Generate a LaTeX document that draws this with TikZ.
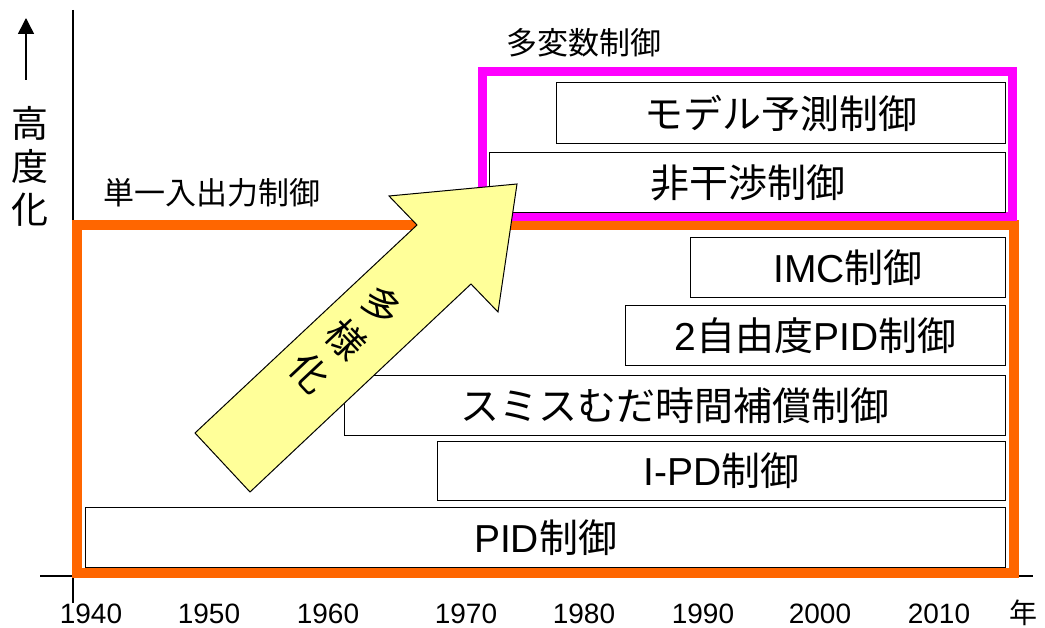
\documentclass[tikz,border=0pt]{standalone}
\usepackage{fontspec}
\setmainfont{Liberation Sans}
\newfontfamily\jp{Noto Sans CJK JP}
\usetikzlibrary{arrows.meta}
\definecolor{orng}{HTML}{FF6600}
\definecolor{mgnt}{HTML}{FF00FF}
\definecolor{ylw}{HTML}{FFFF99}
\begin{document}
\begin{tikzpicture}[x=1pt,y=-1pt,
  ctrlbox/.style={draw=black, line width=1.2pt, fill=white, inner sep=0pt, anchor=north west, font=\fontsize{39}{44}\selectfont},
  yearlbl/.style={anchor=base, inner sep=0pt, font=\fontsize{28}{30}\selectfont},
  grouplbl/.style={inner sep=0pt, font=\jp\fontsize{31}{34}\selectfont},
  arrowchar/.style={rotate=-46.8, inner sep=0pt, font=\jp\fontsize{38}{40}\selectfont},
  axisline/.style={draw=black, line width=1.2pt}]
\useasboundingbox (0,0) rectangle (1045,628);
\fill[white] (0,0) rectangle (1045,628);

% axes
\coordinate (vtop) at (73,10);
\coordinate (vbot) at (73,603);
\coordinate (hl) at (40,576);
\coordinate (hr) at (1033,576);
\draw[axisline] (vtop) -- (vbot);
\draw[axisline] (hl) -- (hr);

% group frames
\draw[orng, line width=10pt] (77,225.5) rectangle (1014,573);
\draw[mgnt, line width=9pt] (482.5,72) rectangle (1012.5,216.5);

% control boxes
\node[ctrlbox, minimum width=449pt, minimum height=61pt] (mpc) at (556,82) {\jp モデル予測制御};
\node[ctrlbox, minimum width=516pt, minimum height=60pt] (hikan) at (489,152) {\jp 非干渉制御};
\node[ctrlbox, minimum width=315pt, minimum height=60pt] (imc) at (690,237) {IMC{\jp 制御}};
\node[ctrlbox, minimum width=380pt, minimum height=60pt] (dof) at (625,305) {2{\jp 自由度}PID{\jp 制御}};
\node[ctrlbox, minimum width=661pt, minimum height=60pt] (smith) at (344,375) {\jp スミスむだ時間補償制御};
\node[ctrlbox, minimum width=568pt, minimum height=59pt] (ipd) at (437,441) {I-PD{\jp 制御}};
\node[ctrlbox, minimum width=920pt, minimum height=60pt] (pid) at (85,507) {PID{\jp 制御}};

% group labels
\node[grouplbl] (multi) at (584,43) {多変数制御};
\node[grouplbl] (single) at (212,193) {単一入出力制御};

% big arrow
\draw[fill=ylw, line width=1pt, line join=miter] (195,433) -- (417,225) -- (389,196) -- (517,184) -- (498,312) -- (471,284) -- (250,492) -- cycle;
\node[arrowchar] (ta) at (382,305) {多};
\node[arrowchar] (you) at (346,339) {様};
\node[arrowchar] (ka) at (310,373) {化};

% vertical label with arrow
\coordinate (abot) at (26,80);
\coordinate (atop) at (26,18);
\draw[line width=1.5pt, -{Triangle[length=16pt,width=16pt]}] (abot) -- (atop);
\node[align=center, font=\jp\fontsize{37}{43}\selectfont, inner sep=0pt] (koudo) at (30,166) {高\\度\\化};

% years
\foreach \yr/\xx in {1940/91, 1950/209, 1960/328, 1970/466, 1980/584, 1990/703, 2000/820, 2010/939}
  \node[yearlbl] (y\yr) at (\xx,623) {\yr};
\node[yearlbl, font=\jp\fontsize{28}{30}\selectfont] (nen) at (1023,623) {年};
\end{tikzpicture}
\end{document}
